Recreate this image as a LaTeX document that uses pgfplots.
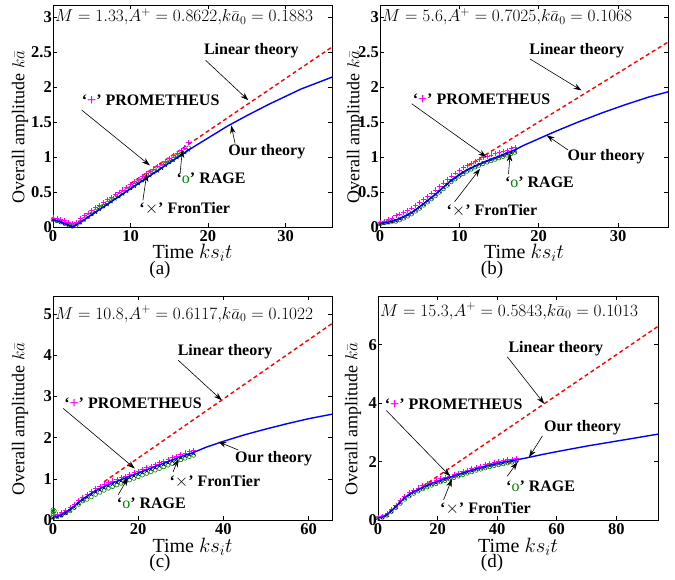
\documentclass[border=0pt]{standalone}
\usepackage{fontspec}
\setmainfont{Liberation Serif}
\usepackage{pgfplots}
\pgfplotsset{compat=1.18}
\usepackage{pgfplotstable}
\usetikzlibrary{arrows.meta}

\definecolor{mgreen}{RGB}{0,128,0}
\definecolor{mmag}{RGB}{255,0,255}

% simulation data: x, PROMETHEUS, RAGE, FronTier
\pgfplotstableread{
x prom rage front
0 0.13 0.11 0.10
0.5 0.12 0.09 0.09
1 0.11 0.07 0.07
1.5 0.09 0.05 0.05
2 0.07 0.03 0.03
2.5 0.05 0.01 0.01
3 0.07 0.02 0.03
3.5 0.12 0.07 0.06
4 0.16 0.11 0.10
4.5 0.20 0.15 0.14
5 0.24 0.19 0.18
5.5 0.28 0.23 0.21
6 0.31 0.27 0.25
6.5 0.35 0.30 0.29
7 0.39 0.34 0.32
7.5 0.42 0.38 0.36
8 0.46 0.42 0.40
8.5 0.50 0.45 0.43
9 0.53 0.49 0.47
9.5 0.57 0.53 0.51
10 0.61 0.56 0.55
10.5 0.65 0.60 0.58
11 0.68 0.64 0.62
11.5 0.72 0.67 0.66
12 0.76 0.71 0.69
12.5 0.79 0.75 0.73
13 0.83 0.79 0.77
13.5 0.87 0.82 0.80
14 0.90 0.86 0.84
14.5 0.94 0.90 0.88
15 0.98 0.93 0.92
15.5 1.02 0.97 0.95
16 1.05 1.01 0.99
16.5 1.09 1.04 1.03
17 1.13 1.08 1.06
17.5 1.21 1.13 1.10
}\dataA

\pgfplotstableread{
x prom rage front
0 0.07 0.05 0.04
0.5 0.08 0.06 0.05
1 0.11 0.07 0.06
1.5 0.125 0.08 0.075
2 0.16 0.08 0.09
2.5 0.185 0.10 0.115
3 0.21 0.125 0.14
3.5 0.24 0.155 0.17
4 0.27 0.185 0.20
4.5 0.31 0.225 0.24
5 0.35 0.265 0.28
5.5 0.395 0.31 0.325
6 0.44 0.355 0.37
6.5 0.485 0.40 0.415
7 0.53 0.445 0.46
7.5 0.58 0.495 0.51
8 0.63 0.545 0.56
8.5 0.68 0.595 0.61
9 0.73 0.645 0.66
9.5 0.77 0.685 0.70
10 0.81 0.725 0.74
10.5 0.845 0.76 0.775
11 0.88 0.795 0.81
11.5 0.91 0.825 0.84
12 0.94 0.855 0.87
12.5 0.965 0.88 0.895
13 0.99 0.905 0.92
13.5 1.01 0.925 0.94
14 1.03 0.945 0.96
14.5 1.05 0.965 0.98
15 1.065 0.985 1.00
15.5 1.085 1.005 1.02
16 1.10 1.025 1.04
16.5 1.12 1.045 1.06
17 1.14 1.065 1.08
}\dataB

\pgfplotstableread{
x prom rage front
0 0.12 0.07 0.05
1 0.14 0.09 0.07
2 0.18 0.12 0.10
3 0.24 0.17 0.16
4 0.31 0.22 0.23
5 0.39 0.30 0.31
6 0.48 0.38 0.40
7 0.56 0.46 0.48
8 0.63 0.50 0.55
9 0.70 0.56 0.62
10 0.76 0.62 0.68
11 0.81 0.67 0.73
12 0.86 0.72 0.78
13 0.91 0.77 0.83
14 0.95 0.81 0.87
15 0.99 0.85 0.91
16 1.03 0.89 0.95
17 1.07 0.93 0.99
18 1.11 0.97 1.03
19 1.15 1.01 1.07
20 1.19 1.05 1.11
21 1.23 1.09 1.15
22 1.27 1.13 1.19
23 1.31 1.17 1.23
24 1.35 1.21 1.27
25 1.39 1.25 1.31
26 1.43 1.29 1.35
27 1.47 1.33 1.39
28 1.51 1.37 1.43
29 1.55 1.42 1.47
30 1.59 1.46 1.51
31 1.63 1.50 1.55
32 1.66 1.54 1.58
33 1.69 1.57 1.61
}\dataC

\pgfplotstableread{
x prom rage front
0 0.10 0.06 0.06
1.5 0.14 0.09 0.09
3 0.23 0.16 0.16
4.5 0.37 0.29 0.30
6 0.51 0.42 0.43
7.5 0.67 0.57 0.59
9 0.82 0.71 0.74
10.5 0.93 0.82 0.85
12 1.02 0.91 0.94
13.5 1.10 0.99 1.02
15 1.17 1.06 1.09
16.5 1.24 1.13 1.16
18 1.30 1.19 1.22
19.5 1.35 1.24 1.27
21 1.41 1.30 1.33
22.5 1.46 1.35 1.38
24 1.51 1.40 1.43
25.5 1.56 1.45 1.48
27 1.61 1.50 1.53
28.5 1.66 1.55 1.58
30 1.71 1.60 1.63
31.5 1.76 1.65 1.68
33 1.81 1.70 1.73
34.5 1.85 1.74 1.77
36 1.89 1.78 1.81
37.5 1.93 1.82 1.85
39 1.97 1.86 1.89
40.5 2.00 1.89 1.92
42 2.03 1.92 1.95
43.5 2.06 1.95 1.98
45 2.09 1.98 2.01
46.5 2.11 2.02 2.03
}\dataD

\pgfplotsset{
  panel/.style={
    scale only axis,
    xmin=0, ymin=0,
    axis line style={line width=0.8pt},
    every tick/.style={black, line width=0.6pt},
    major tick length=4pt,
    tick label style={font=\bfseries\fontsize{16.5}{16.5}\selectfont},
    /pgf/number format/assume math mode=true,
    yticklabel style={inner xsep=1pt},
    xlabel={Time $ks_it$},
    ylabel={Overall amplitude $k\bar{a}$},
    xlabel style={font=\fontsize{20}{20}\selectfont, at={(axis description cs:0.5,-0.118)}, anchor=center},
    clip mode=individual,
  },
  lin/.style={red, line width=1.4pt, dash pattern=on 4pt off 3pt},
  ours/.style={blue, line width=1.4pt},
  prom/.style={only marks, mark=+, mark size=2.4pt, mmag, mark options={line width=0.7pt}},
  rage/.style={only marks, mark=o, mark size=2pt, mgreen, mark options={line width=0.6pt}},
  front/.style={only marks, mark=x, mark size=2pt, black, mark options={line width=0.6pt}},
}
\tikzset{
  ann/.style={font=\bfseries\fontsize{16}{16}\selectfont, inner sep=0pt},
  arr/.style={-{Stealth[length=8pt,width=5.5pt]}, line width=0.6pt},
  hdr/.style={anchor=west, inner sep=2pt, font=\fontsize{17}{17}\selectfont},
  ylab/.style={font=\fontsize{18}{18}\selectfont, anchor=center},
}
\newcommand{\Prom}{‘\textcolor{mmag}{+}’ PROMETHEUS}
\newcommand{\Rage}{‘\textcolor{mgreen}{\mdseries o}’ RAGE}
\newcommand{\Front}{‘$\times$’ FronTier}

\begin{document}
\begin{tikzpicture}
\path[use as bounding box] (0pt,0pt) rectangle (675pt,-580pt);

% (a)
\begin{axis}[panel, at={(53pt,-5pt)}, anchor=north west,
  width=279pt, height=222pt, xmax=36, ymax=3.17,
  xtick={0,10,20,30}, ytick={0,0.5,1,1.5,2,2.5,3},
  ylabel style={ylab, at={(axis description cs:-0.118,0.45)}}]
  \addplot[lin] coordinates {(10,0.62) (36,2.57)};
  \addplot[rage] table[x=x,y=rage] {\dataA};
  \addplot[front] table[x=x,y=front] {\dataA};
  \addplot[prom] table[x=x,y=prom] {\dataA};
  \addplot[ours] coordinates {(0,0.11) (2.6,0.0) (17.5,1.10) (20,1.27) (22.5,1.44) (25,1.59) (28,1.76) (32,1.97) (36,2.14)};
  \node[hdr] at (axis cs:0,3.0) {$M = 1.33{,}A^+ = 0.8622{,}k\bar{a}_0 = 0.1883$};
  \node[ann] at (axis cs:25.6,2.52) {Linear theory};
  \draw[arr] (axis cs:19.7,2.38) -- (axis cs:25.2,1.81);
  \node[ann] at (axis cs:12.6,1.81) {\Prom};
  \draw[arr] (axis cs:3.7,1.67) -- (axis cs:12.5,0.88);
  \node[ann] at (axis cs:27.6,1.07) {Our theory};
  \draw[arr] (axis cs:23.5,1.19) -- (axis cs:23.0,1.45);
  \node[ann] at (axis cs:20.4,0.69) {\Rage};
  \draw[arr] (axis cs:16.4,0.77) -- (axis cs:16.7,1.10);
  \node[ann] at (axis cs:17.0,0.26) {\Front};
  \draw[arr] (axis cs:11.6,0.38) -- (axis cs:12.1,0.76);
\end{axis}

% (b)
\begin{axis}[panel, at={(380pt,-5pt)}, anchor=north west,
  width=288pt, height=222pt, xmax=36.3, ymax=3.17,
  xtick={0,10,20,30}, ytick={0,0.5,1,1.5,2,2.5,3},
  ylabel style={ylab, at={(axis description cs:-0.087,0.45)}}]
  \addplot[lin] coordinates {(11,0.87) (36.3,2.64)};
  \addplot[rage] table[x=x,y=rage] {\dataB};
  \addplot[front] table[x=x,y=front] {\dataB};
  \addplot[prom] table[x=x,y=prom] {\dataB};
  \addplot[ours] coordinates {(0,0.05) (1,0.07) (2,0.10) (3,0.15) (4,0.21) (5,0.29) (6,0.38) (7,0.47) (8,0.57) (9,0.67) (10,0.75) (11,0.82) (12,0.87) (13,0.92) (14,0.97) (15,1.01) (16,1.06) (17,1.10) (18,1.16) (20,1.26) (22,1.36) (25,1.50) (28,1.63) (31,1.75) (34,1.86) (36.3,1.93)};
  \node[hdr] at (axis cs:0,3.0) {$M = 5.6{,}A^+ = 0.7025{,}k\bar{a}_0 = 0.1068$};
  \node[ann] at (axis cs:24.8,2.52) {Linear theory};
  \draw[arr] (axis cs:18.9,2.40) -- (axis cs:25.4,1.95);
  \node[ann] at (axis cs:12.8,1.83) {\Prom};
  \draw[arr] (axis cs:4.0,1.76) -- (axis cs:13.4,1.0);
  \node[ann] at (axis cs:28.5,1.0) {Our theory};
  \draw[arr] (axis cs:23.7,1.1) -- (axis cs:21.0,1.31);
  \node[ann] at (axis cs:20.1,0.64) {\Rage};
  \draw[arr] (axis cs:16.2,0.76) -- (axis cs:16.4,1.05);
  \node[ann] at (axis cs:14.1,0.24) {\Front};
  \draw[arr] (axis cs:9.4,0.36) -- (axis cs:12.6,0.83);
\end{axis}

% (c)
\begin{axis}[panel, at={(53pt,-296pt)}, anchor=north west,
  width=279pt, height=224pt, xmax=65.5, ymax=5.44,
  xtick={0,20,40,60}, ytick={0,1,2,3,4,5},
  ylabel style={ylab, at={(axis description cs:-0.118,0.45)}}]
  \addplot[lin] coordinates {(12,0.93) (65.5,4.77)};
  \addplot[rage] table[x=x,y=rage] {\dataC};
  \addplot[rage] coordinates {(0,0.15) (0,0.20) (0,0.25) (0.3,0.22)};
  \addplot[front] table[x=x,y=front] {\dataC};
  \addplot[prom] table[x=x,y=prom] {\dataC};
  \addplot[ours] coordinates {(0,0.07) (1,0.09) (2,0.13) (3,0.19) (4,0.26) (5,0.34) (6,0.43) (7,0.51) (8,0.58) (9,0.65) (10,0.71) (12,0.81) (14,0.90) (16,0.98) (18,1.06) (20,1.14) (24,1.30) (28,1.46) (30,1.54) (33,1.64) (36,1.77) (40,1.91) (45,2.07) (50,2.21) (55,2.34) (60,2.46) (65.5,2.57)};
  \node[hdr] at (axis cs:0,5.0) {$M = 10.8{,}A^+ = 0.6117{,}k\bar{a}_0 = 0.1022$};
  \node[ann] at (axis cs:40.4,4.09) {Linear theory};
  \draw[arr] (axis cs:29.4,3.88) -- (axis cs:39.6,2.91);
  \node[ann] at (axis cs:18.8,2.83) {\Prom};
  \draw[arr] (axis cs:2.4,2.71) -- (axis cs:19.2,1.25);
  \node[ann] at (axis cs:51.8,1.5) {Our theory};
  \draw[arr] (axis cs:43.5,1.70) -- (axis cs:38.8,1.90);
  \node[ann] at (axis cs:38,0.93) {\Front};
  \draw[arr] (axis cs:28.2,1.17) -- (axis cs:29.4,1.48);
  \node[ann] at (axis cs:23.1,0.40) {\Rage};
  \draw[arr] (axis cs:15.3,0.61) -- (axis cs:17.6,1.02);
\end{axis}

% (d)
\begin{axis}[panel, at={(378pt,-296pt)}, anchor=north west,
  width=280pt, height=224pt, xmax=94, ymax=7.67,
  xtick={0,20,40,60,80}, ytick={0,2,4,6},
  ylabel style={ylab, at={(axis description cs:-0.089,0.45)}}]
  \addplot[lin] coordinates {(15,1.15) (94,6.63)};
  \addplot[rage] table[x=x,y=rage] {\dataD};
  \addplot[front] table[x=x,y=front] {\dataD};
  \addplot[prom] table[x=x,y=prom] {\dataD};
  \addplot[ours] coordinates {(0,0.07) (1.5,0.10) (3,0.18) (4.5,0.32) (6,0.46) (7.5,0.62) (9,0.77) (10.5,0.88) (12,0.97) (15,1.12) (18,1.25) (21,1.36) (24,1.46) (30,1.66) (36,1.84) (42,1.98) (46.5,2.06) (50,2.13) (55,2.24) (60,2.34) (70,2.53) (80,2.70) (94,2.94)};
  \node[hdr] at (axis cs:0,7.15) {$M = 15.3{,}A^+ = 0.5843{,}k\bar{a}_0 = 0.1013$};
  \node[ann] at (axis cs:59.7,5.88) {Linear theory};
  \draw[arr] (axis cs:43.4,5.59) -- (axis cs:55.8,3.98);
  \node[ann] at (axis cs:25.4,3.98) {\Prom};
  \draw[arr] (axis cs:2.8,3.75) -- (axis cs:24.2,1.50);
  \node[ann] at (axis cs:68.7,3.17) {Our theory};
  \draw[arr] (axis cs:55.2,2.88) -- (axis cs:50.7,2.15);
  \node[ann] at (axis cs:54.6,1.15) {\Rage};
  \draw[arr] (axis cs:43.4,1.50) -- (axis cs:46.8,1.98);
  \node[ann] at (axis cs:36.1,0.40) {\Front};
  \draw[arr] (axis cs:22,0.69) -- (axis cs:24.8,1.40);
\end{axis}

\node[font=\fontsize{19}{19}\selectfont] at (160pt,-270pt) {(a)};
\node[font=\fontsize{19}{19}\selectfont] at (492pt,-270pt) {(b)};
\node[font=\fontsize{19}{19}\selectfont] at (160pt,-563pt) {(c)};
\node[font=\fontsize{19}{19}\selectfont] at (492pt,-563pt) {(d)};
\end{tikzpicture}
\end{document}
